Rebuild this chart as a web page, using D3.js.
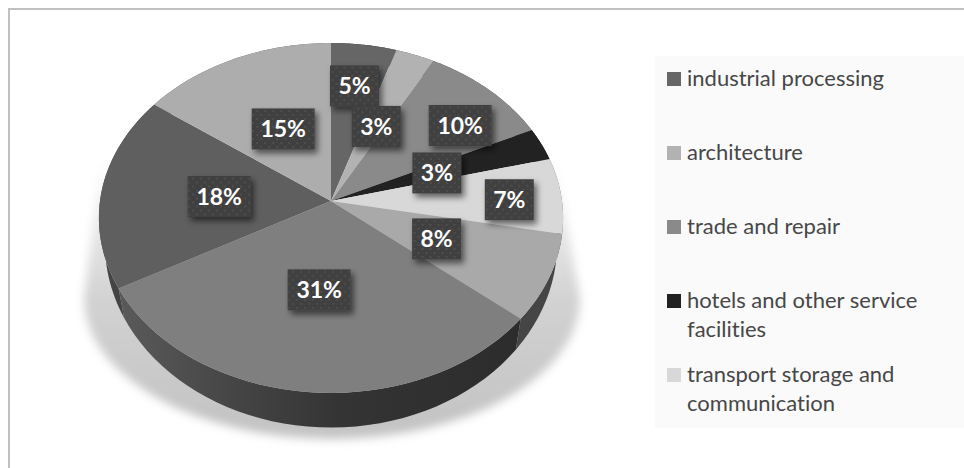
<!DOCTYPE html>
<html>
<head>
<meta charset="utf-8">
<script src="https://cdn.jsdelivr.net/npm/d3@7"></script>
<style>
  html, body { margin: 0; padding: 0; background: #fff; }
  svg { display: block; }
  text { font-variant-ligatures: none; }
</style>
</head>
<body>
<div id="chart"></div>
<script>
// Employment share by sector, clockwise from twelve o'clock (percent).
const shareValues = [5, 3, 10, 3, 7, 8, 31, 18, 15];
const legendCategories = [
  ["industrial processing"],
  ["architecture"],
  ["trade and repair"],
  ["hotels and other service", "facilities"],
  ["transport storage and", "communication"]
];

// Styling, kept apart from the values.
const topShades = ["#666666", "#b2b2b2", "#8a8a8a", "#222222", "#d8d8d8", "#a9a9a9", "#7f7f7f", "#5f5f5f", "#adadad"];
const wallShades = ["#333", "#555", "#444", "#111", "#666", "#454545", "url(#wallFront)", "#444444", "#555"];
const labelNudges = [[3, -18], [-7, 16], [32, -7], [-22, 6.5], [40, 2], [-23, -7.5], [2, -21], [26, 2], [12, 16]];

const width = 964, height = 468;
const cx = 331, cy = 201;

const svg = d3.select("#chart").append("svg").attr("width", width).attr("height", height);
const defs = svg.append("defs");

// Tilted-disc projection: a unit circle seen in perspective, with the apex nearer the far rim.
const tilt = 0.097;
const disc = (centerY, spanX, spanY) => (theta, r = 1) => {
  const X = r * Math.sin(theta), Y = -r * Math.cos(theta), d = 1 - tilt * Y;
  return [cx + spanX * X / d, centerY + spanY * Y / d];
};
const topRim = disc(cy, 231, 173.3);
const baseRim = disc(226, 225, 182);

const pie = d3.pie().sort(null).value(d => d)(shareValues);
const arcSamples = (a, b) => d3.range(0, 41).map(i => a + (b - a) * i / 40);
const line = d3.line();

// Ground shadow gradient and blur
const shadowGrad = defs.append("linearGradient").attr("id", "groundFade")
  .attr("x1", 0).attr("x2", 0).attr("y1", 0).attr("y2", 1);
shadowGrad.append("stop").attr("offset", "0%").attr("stop-color", "#ffffff");
shadowGrad.append("stop").attr("offset", "20%").attr("stop-color", "#ececec");
shadowGrad.append("stop").attr("offset", "50%").attr("stop-color", "#d2d2d2");
shadowGrad.append("stop").attr("offset", "100%").attr("stop-color", "#c2c2c2");
defs.append("filter").attr("id", "soft").attr("x", "-10%").attr("y", "-10%").attr("width", "120%").attr("height", "120%")
  .append("feGaussianBlur").attr("stdDeviation", 5);

const wallGrad = defs.append("linearGradient").attr("id", "wallFront")
  .attr("gradientUnits", "userSpaceOnUse").attr("x1", 120).attr("x2", 520).attr("y1", 0).attr("y2", 0);
[["0%", "#5a5a5a"], ["30%", "#444444"], ["55%", "#343434"], ["100%", "#2c2c2c"]]
  .forEach(([o, c]) => wallGrad.append("stop").attr("offset", o).attr("stop-color", c));

// Label box texture and its cast shadow
const dots = defs.append("pattern").attr("id", "dotted").attr("patternUnits", "userSpaceOnUse")
  .attr("width", 8).attr("height", 8);
dots.append("rect").attr("width", 8).attr("height", 8).attr("fill", "#404040");
[[2, 2], [6, 6]].forEach(([x, y]) =>
  dots.append("circle").attr("cx", x).attr("cy", y).attr("r", 1).attr("fill", "#525252"));
defs.append("filter").attr("id", "boxShadow").attr("x", "-30%").attr("y", "-30%").attr("width", "170%").attr("height", "170%")
  .append("feDropShadow").attr("dx", 3).attr("dy", 4).attr("stdDeviation", 3)
  .attr("flood-color", "#000").attr("flood-opacity", 0.55);

// Frame lines along the top and left
svg.append("rect").attr("x", 8).attr("y", 8).attr("width", width - 8).attr("height", 2).attr("fill", "#c0c0c0");
svg.append("rect").attr("x", 8).attr("y", 8).attr("width", 2).attr("height", height - 8).attr("fill", "#c0c0c0");

// Ground shadow
svg.append("path")
  .attr("d", `M101,160 L84,298 A248,141 0 0 0 580,298 L556,160 Z`)
  .attr("fill", "url(#groundFade)")
  .attr("filter", "url(#soft)");

// Side walls
svg.append("g").selectAll("path").data(pie).join("path")
  .attr("d", d => {
    const t = arcSamples(d.startAngle, d.endAngle);
    return line([...t.map(a => topRim(a)), ...t.slice().reverse().map(a => baseRim(a))]) + "Z";
  })
  .attr("fill", (d, i) => wallShades[i]);

// Top faces
svg.append("g").selectAll("path").data(pie).join("path")
  .attr("d", d => line([[cx, cy], ...arcSamples(d.startAngle, d.endAngle).map(a => topRim(a))]) + "Z")
  .attr("fill", (d, i) => topShades[i]);

// Value labels
const labels = svg.append("g").selectAll("g").data(pie).join("g")
  .attr("transform", (d, i) => {
    const [x, y] = topRim((d.startAngle + d.endAngle) / 2, 0.6);
    return `translate(${x + labelNudges[i][0]},${y + labelNudges[i][1]})`;
  });
const boxWidth = d => (d.value >= 10 ? 63 : 49);
labels.append("rect")
  .attr("x", d => -boxWidth(d) / 2).attr("y", -20.5)
  .attr("width", boxWidth).attr("height", 41)
  .attr("fill", "url(#dotted)")
  .attr("filter", "url(#boxShadow)");
labels.append("text")
  .attr("text-anchor", "middle").attr("y", 8.5)
  .attr("font-family", "Lato, sans-serif").attr("font-weight", 700).attr("font-size", 23)
  .attr("fill", "#ffffff")
  .text(d => d.value + "%");

// Legend
svg.append("rect").attr("x", 655).attr("y", 56).attr("width", width - 655).attr("height", 372).attr("fill", "#fafafa");
const legendY = d3.scalePoint().domain(d3.range(legendCategories.length)).range([72, 368]);
const rows = svg.append("g").selectAll("g").data(legendCategories).join("g")
  .attr("transform", (d, i) => `translate(667,${legendY(i)})`);
rows.append("rect").attr("width", 14).attr("height", 14).attr("fill", (d, i) => topShades.slice(0, 5)[i]);
rows.selectAll("text").data(d => d).join("text")
  .attr("x", 20).attr("y", (d, i) => 14 + i * 29)
  .attr("font-family", "Lato, sans-serif").attr("font-size", 22)
  .attr("fill", "#474747")
  .text(d => d);
</script>
</body>
</html>
